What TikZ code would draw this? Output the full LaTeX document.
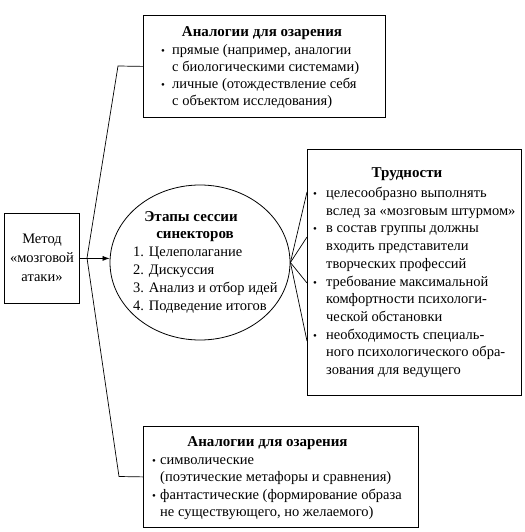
\documentclass[tikz,border=0pt]{standalone}
\usepackage{fontspec}
\setmainfont{Liberation Serif}
\usetikzlibrary{shapes.geometric,arrows.meta}
\begin{document}
\begin{tikzpicture}[x=1pt,y=-1pt,
  box/.style={draw,line width=0.8pt,inner sep=0pt,anchor=north west},
  ln/.style={anchor=base west,inner sep=0pt,font=\fontsize{14.5}{17.5}\selectfont},
  ttl/.style={anchor=base,inner sep=0pt,font=\fontsize{15}{17.5}\selectfont\bfseries},
  ctr/.style={anchor=base,inner sep=0pt,font=\fontsize{14.5}{17.5}\selectfont},
  bul/.style={anchor=base,inner sep=0pt,font=\fontsize{11}{17.5}\selectfont},
  con/.style={line width=0.7pt}]
\useasboundingbox (0,0) rectangle (524,532);
% boxes
\node[box,minimum width=242pt,minimum height=102pt] (top) at (143,15) {};
\node[box,minimum width=75pt,minimum height=90pt] (m) at (4,213) {};
\node[box,minimum width=214pt,minimum height=246pt] (r) at (307,149) {};
\node[box,minimum width=275pt,minimum height=101pt] (bot) at (143,426) {};
\node[draw,line width=0.8pt,ellipse,minimum width=180pt,minimum height=155pt,inner sep=0pt] (e) at (200,262.5) {};
% top box text
\node[ttl] (t0) at (262,36.5) {Аналогии для озарения};
\node[bul] (tb1) at (163,54.5) {•};
\node[ln] (t1) at (172,54.5) {прямые (например, аналогии};
\node[ln] (t2) at (172,71.5) {с биологическими системами)};
\node[bul] (tb2) at (163,88.5) {•};
\node[ln] (t3) at (172,88.5) {личные (отождествление себя};
\node[ln] (t4) at (172,106) {с объектом исследования)};
% method box text
\node[ctr] (m1) at (42,243.5) {Метод};
\node[ctr] (m2) at (42,262) {«мозговой};
\node[ctr] (m3) at (42,281) {атаки»};
% ellipse text
\node[ttl] (e0) at (191,221.5) {Этапы сессии};
\node[ttl] (e1) at (195,238.5) {синекторов};
\node[ln] (e2) at (133,256.5) {1. Целеполагание};
\node[ln] (e3) at (133,274.5) {2. Дискуссия};
\node[ln] (e4) at (133,292.5) {3. Анализ и отбор идей};
\node[ln] (e5) at (133,310.5) {4. Подведение итогов};
% right box text
\node[ttl] (r0) at (407,177.5) {Трудности};
\node[bul] (rb1) at (315,197.5) {•};
\node[ln] (r1) at (326,197.5) {целесообразно выполнять};
\node[ln] (r2) at (326,215.2) {вслед за «мозговым штурмом»};
\node[bul] (rb2) at (315,232.9) {•};
\node[ln] (r3) at (326,232.9) {в состав группы должны};
\node[ln] (r4) at (326,250.6) {входить представители};
\node[ln] (r5) at (326,268.3) {творческих профессий};
\node[bul] (rb3) at (315,286) {•};
\node[ln] (r6) at (326,286) {требование максимальной};
\node[ln] (r7) at (326,303.7) {комфортности психологи-};
\node[ln] (r8) at (326,321.4) {ческой обстановки};
\node[bul] (rb4) at (315,339.1) {•};
\node[ln] (r9) at (326,339.1) {необходимость специаль-};
\node[ln] (r10) at (326,356.8) {ного психологического обра-};
\node[ln] (r11) at (326,374.5) {зования для ведущего};
% bottom box text
\node[ttl] (b0) at (267.5,446.5) {Аналогии для озарения};
\node[bul] (bb1) at (154,464) {•};
\node[ln] (b1) at (160,464) {символические};
\node[ln] (b2) at (160,481.5) {(поэтические метафоры и сравнения)};
\node[bul] (bb2) at (154,499) {•};
\node[ln] (b3) at (160,499) {фантастические (формирование образа};
\node[ln] (b4) at (160,516.5) {не существующего, но желаемого)};
% connectors
\coordinate (j) at (87,258);
\coordinate (jt) at (118,66);
\coordinate (jb) at (119,476.5);
\draw[con,-{Latex[length=7pt,width=5pt]}] (m.east) -- (m.east -| e.west);
\draw[con] (j) -- (jt) -- (top.west);
\draw[con] (j) -- (jb) -- (bot.west);
\draw[con] (e.east) -- (r.west |- {(0,192)});
\draw[con] (e.east) -- (r.west |- {(0,237)});
\draw[con] (e.east) -- (r.west |- {(0,283)});
\draw[con] (e.east) -- (r.west |- {(0,341)});
\end{tikzpicture}
\end{document}
